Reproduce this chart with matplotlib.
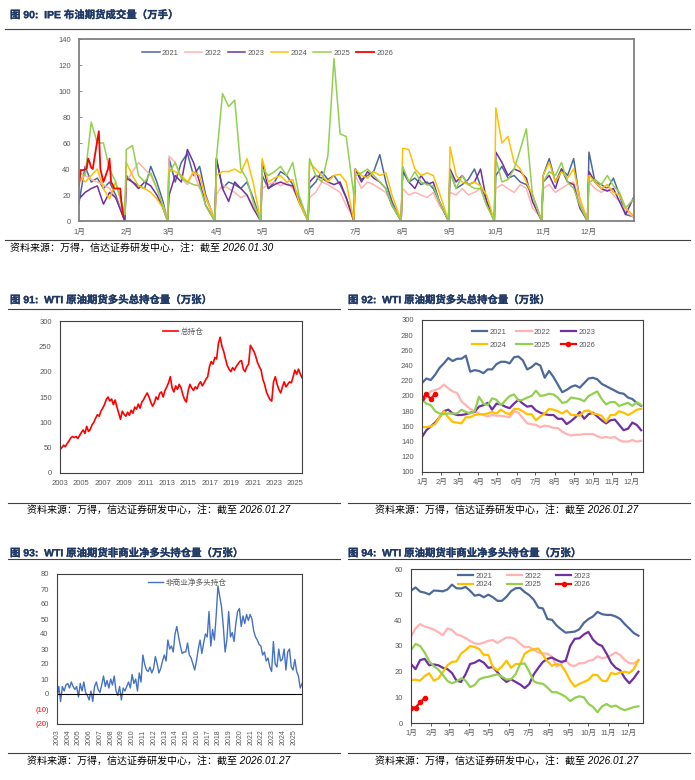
import matplotlib
matplotlib.use("Agg")
import matplotlib.pyplot as plt
import matplotlib.patheffects as pe
from matplotlib.lines import Line2D
import numpy as np

plt.rcParams['font.family'] = ['Liberation Sans', 'Noto Sans CJK SC', 'DejaVu Sans']
plt.rcParams['axes.unicode_minus'] = False

months = ['1月', '2月', '3月', '4月', '5月', '6月', '7月', '8月', '9月', '10月', '11月', '12月']
month_start = [0, 31, 59, 90, 120, 151, 181, 212, 243, 273, 304, 334]
month_len = [31, 28, 31, 30, 31, 30, 31, 31, 30, 31, 30, 31]

# ---------- 图90 IPE 布油期货成交量 (万手), 8 obs per month ----------
ipe_days = []
for s, n in zip(month_start, month_len):
    ipe_days += [s, s + 4, s + 8, s + 12, s + 16, s + 20, s + 24, s + n - 1]

vol_2021 = [14, 42, 30, 33, 25, 30, 20, 0,
            35, 30, 27, 25, 42, 30, 15, 0,
            48, 30, 45, 52, 35, 42, 20, 0,
            48, 25, 30, 28, 25, 30, 18, 0,
            35, 25, 30, 38, 35, 28, 18, 0,
            25, 30, 38, 32, 35, 28, 18, 0,
            40, 32, 35, 38, 51, 30, 15, 0,
            38, 30, 33, 28, 30, 25, 15, 0,
            38, 25, 28, 32, 40, 27, 15, 0,
            35, 42, 33, 35, 30, 28, 20, 0,
            35, 48, 30, 40, 35, 48, 15, 0,
            53, 30, 28, 25, 33, 20, 5, 3]
vol_2022 = [30, 35, 32, 30, 28, 25, 18, 2,
            30, 38, 45, 40, 35, 25, 12, 2,
            50, 45, 33, 28, 38, 25, 18, 2,
            20, 28, 25, 22, 18, 20, 12, 2,
            25, 28, 30, 27, 30, 25, 15, 2,
            18, 22, 30, 28, 25, 22, 12, 2,
            35, 25, 30, 28, 25, 22, 12, 2,
            25, 20, 22, 20, 18, 22, 12, 2,
            22, 20, 25, 20, 22, 25, 12, 2,
            25, 28, 25, 22, 28, 25, 10, 2,
            25, 28, 22, 25, 28, 30, 15, 2,
            30, 25, 22, 25, 20, 15, 8, 2]
vol_2023 = [17, 22, 25, 27, 13, 22, 18, 0,
            33, 30, 25, 30, 27, 20, 10, 0,
            20, 35, 30, 55, 45, 30, 12, 0,
            48, 25, 15, 30, 25, 20, 10, 0,
            45, 25, 28, 30, 28, 27, 15, 0,
            30, 35, 33, 30, 28, 30, 18, 0,
            40, 30, 38, 33, 30, 25, 12, 0,
            40, 30, 25, 35, 28, 30, 15, 0,
            40, 30, 35, 28, 30, 40, 15, 0,
            53, 45, 35, 40, 38, 33, 15, 0,
            30, 35, 25, 40, 30, 28, 10, 0,
            38, 30, 25, 23, 25, 15, 5, 20]
vol_2024 = [35, 30, 35, 40, 25, 17, 30, 5,
            45, 35, 27, 25, 22, 17, 10, 0,
            40, 38, 35, 30, 38, 35, 18, 0,
            35, 38, 38, 40, 37, 48, 30, 0,
            48, 30, 33, 35, 30, 32, 15, 0,
            45, 40, 35, 30, 35, 36, 30, 0,
            40, 35, 33, 38, 35, 37, 20, 0,
            56, 55, 40, 35, 37, 35, 22, 0,
            57, 35, 30, 28, 30, 27, 20, 0,
            87, 60, 65, 45, 40, 30, 20, 0,
            35, 45, 30, 38, 33, 40, 18, 0,
            35, 30, 25, 28, 22, 20, 10, 3]
vol_2025 = [37, 35, 76, 60, 60, 40, 30, 5,
            55, 58, 35, 30, 37, 25, 12, 0,
            37, 45, 33, 30, 28, 27, 12, 0,
            48, 98, 88, 93, 40, 32, 15, 0,
            40, 35, 38, 42, 35, 45, 20, 0,
            48, 35, 30, 50, 125, 67, 65, 20,
            35, 37, 40, 35, 30, 25, 12, 0,
            42, 30, 38, 30, 28, 27, 15, 0,
            38, 25, 35, 28, 25, 25, 12, 0,
            48, 30, 32, 40, 55, 71, 20, 0,
            30, 38, 35, 45, 30, 25, 12, 0,
            30, 32, 28, 35, 27, 22, 10, 18]
days_2026 = [0, 1, 2, 5, 6, 7, 8, 9, 12, 13, 14, 15, 16, 19, 20, 21, 22, 23, 26, 27, 28, 29]
vol_2026 = [27, 39, 39, 40, 48, 45, 41, 40, 62, 69, 40, 35, 30, 40, 48, 30, 28, 25, 25, 25, 12, 4]

# ---------- 图91 WTI 多头总持仓 (万张), 2003-2026 ----------
total_long = [46, 50, 55, 52, 58, 63,
              69, 72, 70, 72, 68, 74,
              80, 85, 78, 92, 82, 86,
              95, 100, 108, 115, 112, 122,
              128, 135, 145, 150, 142, 146,
              135, 144, 130, 118, 106, 122,
              116, 112, 120, 114, 124, 118,
              130, 126, 136, 128, 140, 145,
              152, 158, 150, 140, 132, 138,
              150, 145, 157, 160, 150, 163,
              170, 178, 190, 168, 160, 172,
              165, 175, 168, 155, 145, 140,
              162, 175, 168, 163, 170, 166,
              175, 180, 172, 178, 185, 190,
              210, 220, 215, 228, 225, 255,
              268, 250, 240, 225, 212, 205,
              200, 208, 203, 210, 215, 220,
              222, 205, 200, 210, 215, 252,
              246, 240, 230, 218, 210, 203,
              185, 175, 160, 152, 145, 142,
              180, 190, 175, 165, 158, 170,
              180, 170, 175, 180, 178, 190,
              203, 195, 205, 196, 188]

# ---------- 图93 非商业净多头 (万张) ----------
net_long = [-3, 5, -5, 5, 2, 6,
            7, 4, 8, 5, 3, 5,
            -2, 7, 2, 8, 1, -1,
            -4, 2, -5, 5, 8, 3,
            1, 6, 12, 5, 9, 4,
            10, 6, 12, 2, -1, 5,
            -4, 4, 2, 5, 8, 4,
            13, 7, 10, 2, 14, 8,
            26, 20, 16, 15, 18, 14,
            17, 25, 20, 14, 17, 22,
            26, 22, 36, 30, 32, 28,
            40, 45, 38, 32, 27, 28,
            28, 34, 26, 24, 20, 16,
            22, 30, 36, 27, 34, 40,
            38, 55, 32, 43, 36, 52,
            72, 65, 58, 45, 28, 36,
            55, 38, 41, 35, 47, 55,
            57, 45, 52, 47, 53, 49,
            53, 50, 42, 38, 36, 33,
            32, 26, 28, 22, 24, 18,
            15, 35, 20, 18, 30, 22,
            23, 30, 16, 28, 30, 18,
            16, 23, 15, 12, 4, 7]

# ---------- 图92 分年度多头总持仓 (weekly) ----------
wk_days = list(range(0, 351, 7))
pos_2021 = [217, 223, 221, 228, 237, 243, 250, 246, 249, 249, 253, 232, 234, 233, 230, 235, 235,
            242, 245, 245, 243, 251, 252, 247, 235, 238, 243, 240, 224, 233, 225, 215, 205, 208,
            212, 214, 211, 217, 223, 224, 222, 216, 213, 210, 207, 204, 203, 198, 196, 191, 187]
pos_2022 = [191, 199, 206, 208, 210, 215, 210, 206, 204, 193, 188, 183, 180, 177, 175, 173, 175,
            174, 174, 173, 172, 180, 178, 171, 164, 163, 162, 159, 161, 160, 158, 158, 153, 150,
            148, 149, 149, 150, 150, 150, 147, 145, 146, 145, 146, 142, 140, 140, 142, 140, 141]
pos_2023 = [146, 155, 160, 165, 172, 180, 182, 177, 175, 175, 176, 178, 179, 186, 188, 191, 182,
            190, 189, 186, 184, 190, 195, 190, 186, 187, 181, 178, 176, 175, 175, 170, 170, 163,
            167, 172, 179, 170, 176, 178, 173, 168, 164, 168, 169, 162, 155, 157, 165, 162, 155]
pos_2024 = [159, 159, 160, 163, 172, 180, 172, 166, 165, 164, 172, 172, 175, 176, 176, 177, 179,
            177, 182, 178, 176, 183, 183, 180, 176, 176, 168, 173, 177, 183, 182, 180, 177, 181,
            175, 175, 174, 180, 181, 177, 176, 174, 166, 175, 175, 180, 178, 175, 178, 182, 183]
pos_2025 = [195, 190, 188, 180, 177, 176, 177, 177, 177, 182, 179, 177, 180, 199, 190, 188, 197,
            195, 188, 194, 200, 202, 194, 195, 198, 200, 207, 200, 201, 203, 202, 198, 191, 192,
            198, 197, 196, 193, 200, 203, 206, 196, 189, 192, 192, 187, 189, 191, 187, 192, 188]
wk_2026 = [0, 7, 14, 21]
pos_2026 = [197, 202, 196, 203]

# ---------- 图94 分年度非商业净多头 (weekly) ----------
net_2021 = [51.6, 52.8, 51.2, 50.8, 50.1, 51.6, 51.5, 51.3, 52.0, 53.9, 52.5, 52.4, 53.0, 51.5,
            49.6, 50.0, 49.0, 50.0, 49.0, 47.6, 47.6, 49.2, 51.4, 52.5, 52.6, 51.0, 49.8, 48.0,
            45.0, 44.6, 40.5, 40.2, 38.0, 36.5, 35.2, 35.4, 35.6, 36.5, 39.0, 40.5, 41.5, 43.3,
            42.4, 42.1, 42.1, 41.5, 40.5, 38.5, 36.8, 35.0, 34.0]
net_2022 = [33.6, 36.9, 38.5, 37.6, 37.1, 36.4, 35.4, 34.2, 36.8, 36.3, 34.5, 34.0, 33.1, 31.9,
            31.0, 30.8, 31.3, 32.0, 32.3, 31.2, 32.3, 33.3, 33.3, 32.6, 30.9, 29.5, 29.6, 28.5,
            27.5, 27.1, 27.0, 25.8, 22.0, 23.0, 24.5, 22.5, 22.2, 23.3, 23.3, 24.2, 24.6, 26.0,
            25.2, 25.6, 26.4, 27.5, 26.5, 24.6, 23.3, 23.2, 24.5]
net_2023 = [23.0, 21.0, 24.5, 25.0, 22.5, 22.8, 22.5, 21.5, 21.0, 19.5, 16.5, 16.0, 19.0, 23.0,
            23.5, 24.5, 23.5, 21.5, 21.8, 19.8, 17.5, 16.0, 17.0, 16.0, 15.0, 13.6, 15.2, 19.0,
            21.5, 23.8, 25.0, 25.5, 24.5, 23.8, 24.2, 30.0, 32.8, 33.0, 34.5, 35.5, 32.5, 30.8,
            30.0, 27.0, 23.5, 21.5, 20.5, 17.5, 15.5, 17.5, 20.0]
net_2024 = [16.7, 16.9, 16.5, 18.3, 19.4, 16.5, 17.3, 19.8, 22.5, 23.8, 24.0, 27.0, 28.4, 30.0,
            29.6, 28.8, 26.5, 26.5, 21.8, 20.5, 22.0, 24.3, 21.5, 23.0, 23.0, 27.0, 28.2, 28.8,
            29.0, 26.5, 24.0, 22.3, 23.0, 22.6, 20.0, 16.5, 14.2, 15.2, 16.0, 16.8, 18.8, 18.6,
            16.5, 16.3, 19.5, 19.0, 19.7, 20.0, 19.5, 21.0, 24.5]
net_2025 = [28.4, 30.8, 30.0, 27.5, 24.0, 22.2, 20.8, 18.8, 16.4, 15.5, 16.2, 17.4, 16.5, 14.0,
            14.8, 17.0, 17.7, 18.0, 18.5, 19.0, 18.0, 17.0, 17.0, 19.0, 23.0, 23.2, 20.0, 16.2,
            15.5, 15.3, 13.8, 12.0, 12.0, 11.2, 10.2, 8.5, 9.8, 10.4, 10.0, 7.5, 6.3, 4.2,
            6.5, 7.4, 6.3, 6.8, 5.7, 5.0, 5.6, 6.2, 6.5]
net_2026 = [6.0, 6.0, 8.0, 9.8]

colors = {'2021': '#4B6A9A', '2022': '#FFB3B3', '2023': '#7030A0',
          '2024': '#FFC000', '2025': '#92D050', '2026': '#FF0000'}

NAVY = '#1F3864'
GRAY = '#595959'
W, H = 695, 780

fig = plt.figure(figsize=(W / 100, H / 100), dpi=100)


def px_axes(l, t, r, b):
    return fig.add_axes([l / W, 1 - b / H, (r - l) / W, (b - t) / H])


def px_text(x, y, s, **kw):
    return fig.text(x / W, 1 - y / H, s, va='center', ha='left', **kw)


def px_hline(x0, x1, y, **kw):
    fig.add_artist(Line2D([x0 / W, x1 / W], [1 - y / H, 1 - y / H],
                          transform=fig.transFigure, **kw))


def style(ax, spine_color='#404040', lw=0.8):
    for sp in ax.spines.values():
        sp.set_color(spine_color)
        sp.set_linewidth(lw)
    ax.tick_params(labelsize=5.5, labelcolor=GRAY, color=spine_color, length=2, width=0.6)


def put_legend(ax, handles, labels, left_px, ycen_px, ncol, hl, cs, ls=0.3):
    box = ax.get_position()
    x = (left_px / W - box.x0) / box.width
    y = ((1 - ycen_px / H) - box.y0) / box.height
    leg = ax.legend(handles, labels, loc='center left', bbox_to_anchor=(x, y), ncol=ncol,
                    frameon=False, fontsize=5.5, handlelength=hl, handletextpad=0.3,
                    columnspacing=cs, labelspacing=ls, borderpad=0, borderaxespad=0)
    for t in leg.get_texts():
        t.set_color(GRAY)


def title(x, y, s):
    t = px_text(x, y, s, fontsize=7.5, fontweight='bold', color=NAVY)
    t.set_path_effects([pe.withStroke(linewidth=0.2, foreground=NAVY)])


src_kw = dict(fontsize=7.2, style='italic', color='black')

# ---------------- 图90 ----------------
title(10, 15, '图 90:  IPE 布油期货成交量（万手）')
px_hline(5, 690, 29, color='#404040', lw=0.8)
ax0 = px_axes(79, 39, 634, 221)
h0 = []
for yr, vals in [('2021', vol_2021), ('2022', vol_2022), ('2023', vol_2023),
                 ('2024', vol_2024), ('2025', vol_2025)]:
    h0 += ax0.plot(ipe_days, vals, color=colors[yr], lw=1.1, label=yr)
h0 += ax0.plot(days_2026, vol_2026, color=colors['2026'], lw=1.3, label='2026')
ax0.set_xlim(0, 363.5)
ax0.set_ylim(0, 140)
ax0.set_yticks(range(0, 141, 20))
ax0.set_xticks(month_start)
ax0.set_xticklabels(months)
style(ax0, '#808080', 1.3)
ax0.tick_params(axis='y', direction='in', pad=6)
ax0.tick_params(axis='x', length=0, pad=6)
put_legend(ax0, h0, [h.get_label() for h in h0], 142, 53, 6, 2.3, 0.8)
px_hline(5, 690, 240, color='#404040', lw=0.8)
px_text(10, 248, '资料来源：万得，信达证券研发中心，注：截至 2026.01.30', **src_kw)

# ---------------- 图91 ----------------
title(10, 300, '图 91:  WTI 原油期货多头总持仓量（万张）')
px_hline(8, 340, 309, color='#404040', lw=0.8)
ax1 = px_axes(60, 321, 302, 473)
x91 = np.linspace(2003, 2025.62, len(total_long))
h1 = ax1.plot(x91, total_long, color='#FF0000', lw=1.2, label='总持仓')
ax1.set_xlim(2003, 2025.62)
ax1.set_ylim(0, 300)
ax1.set_yticks(range(0, 301, 50))
ax1.set_xticks(range(2003, 2026, 2))
style(ax1)
ax1.tick_params(axis='y', length=0, pad=6)
ax1.tick_params(axis='x', length=0, pad=5)
put_legend(ax1, h1, ['总持仓'], 163, 332, 1, 2.0, 1.0)
px_hline(8, 340, 503, color='#404040', lw=0.8)
px_text(27, 510, '资料来源：万得，信达证券研发中心，注：截至 2026.01.27', **src_kw)

# ---------------- 图92 ----------------
title(348, 300, '图 92:  WTI 原油期货多头总持仓量（万张）')
px_hline(348, 690, 309, color='#404040', lw=0.8)
ax2 = px_axes(422, 320, 643, 472)
h2 = {}
for yr, vals in [('2021', pos_2021), ('2022', pos_2022), ('2023', pos_2023),
                 ('2024', pos_2024), ('2025', pos_2025)]:
    h2[yr], = ax2.plot(wk_days, vals, color=colors[yr], lw=1.6)
h2['2026'], = ax2.plot(wk_2026, pos_2026, color=colors['2026'], lw=1.6, marker='o', ms=3)
ax2.set_xlim(0, 353)
ax2.set_ylim(100, 300)
ax2.set_yticks(range(100, 301, 20))
ax2.set_xticks(month_start)
ax2.set_xticklabels(months)
style(ax2)
ax2.tick_params(axis='y', length=0, pad=6)
ax2.tick_params(axis='x', direction='out', pad=3)
order = ['2021', '2024', '2022', '2025', '2023', '2026']
put_legend(ax2, [h2[k] for k in order], order, 472, 338.5, 3, 2.0, 1.3, ls=0.7)
px_hline(348, 690, 503, color='#404040', lw=0.8)
px_text(375, 510, '资料来源：万得，信达证券研发中心，注：截至 2026.01.27', **src_kw)

# ---------------- 图93 ----------------
title(10, 553, '图 93:  WTI 原油期货非商业净多头持仓量（万张）')
px_hline(8, 340, 559, color='#404040', lw=0.8)
ax3 = px_axes(57, 574, 302, 724)
x93 = np.linspace(2003, 2025.76, len(net_long))
h3 = ax3.plot(x93, net_long, color='#4472C4', lw=1.0, label='非商业净多头持仓')
ax3.axhline(0, color='black', lw=0.8)
ax3.set_xlim(2003, 2025.76)
ax3.set_ylim(-20, 80)
yt = list(range(-20, 81, 10))
ax3.set_yticks(yt)
ax3.set_yticklabels(['(%d)' % -v if v < 0 else str(v) for v in yt])
ax3.set_xticks(range(2003, 2026))
ax3.set_xticklabels([str(y) for y in range(2003, 2026)], rotation=90)
style(ax3)
ax3.tick_params(axis='y', length=0, pad=6)
ax3.tick_params(axis='x', length=0, pad=4, labelsize=5)
for v, lab in zip(yt, ax3.get_yticklabels()):
    if v < 0:
        lab.set_color('#FF0000')
put_legend(ax3, h3, ['非商业净多头持仓'], 148, 583, 1, 2.0, 1.0)
px_hline(8, 340, 753, color='#404040', lw=0.8)
px_text(27, 761, '资料来源：万得，信达证券研发中心，注：截至 2026.01.27', **src_kw)

# ---------------- 图94 ----------------
title(348, 553, '图 94:  WTI 原油期货非商业净多头持仓量（万张）')
px_hline(348, 690, 559, color='#404040', lw=0.8)
ax4 = px_axes(411, 569, 643, 723)
h4 = {}
for yr, vals in [('2021', net_2021), ('2022', net_2022), ('2023', net_2023),
                 ('2024', net_2024), ('2025', net_2025)]:
    h4[yr], = ax4.plot(wk_days, vals, color=colors[yr], lw=1.6)
h4['2026'], = ax4.plot(wk_2026, net_2026, color=colors['2026'], lw=1.6, marker='o', ms=3)
ax4.set_xlim(0, 357)
ax4.set_ylim(0, 60)
ax4.set_yticks(range(0, 61, 10))
ax4.set_xticks(month_start)
ax4.set_xticklabels(months)
style(ax4)
ax4.tick_params(axis='y', length=0, pad=6)
ax4.tick_params(axis='x', direction='out', pad=3)
put_legend(ax4, [h4[k] for k in order], order, 458, 580.5, 3, 2.0, 1.9, ls=0.1)
px_hline(348, 690, 753, color='#404040', lw=0.8)
px_text(375, 761, '资料来源：万得，信达证券研发中心，注：截至 2026.01.27', **src_kw)

fig.savefig('out.png', dpi=100)
